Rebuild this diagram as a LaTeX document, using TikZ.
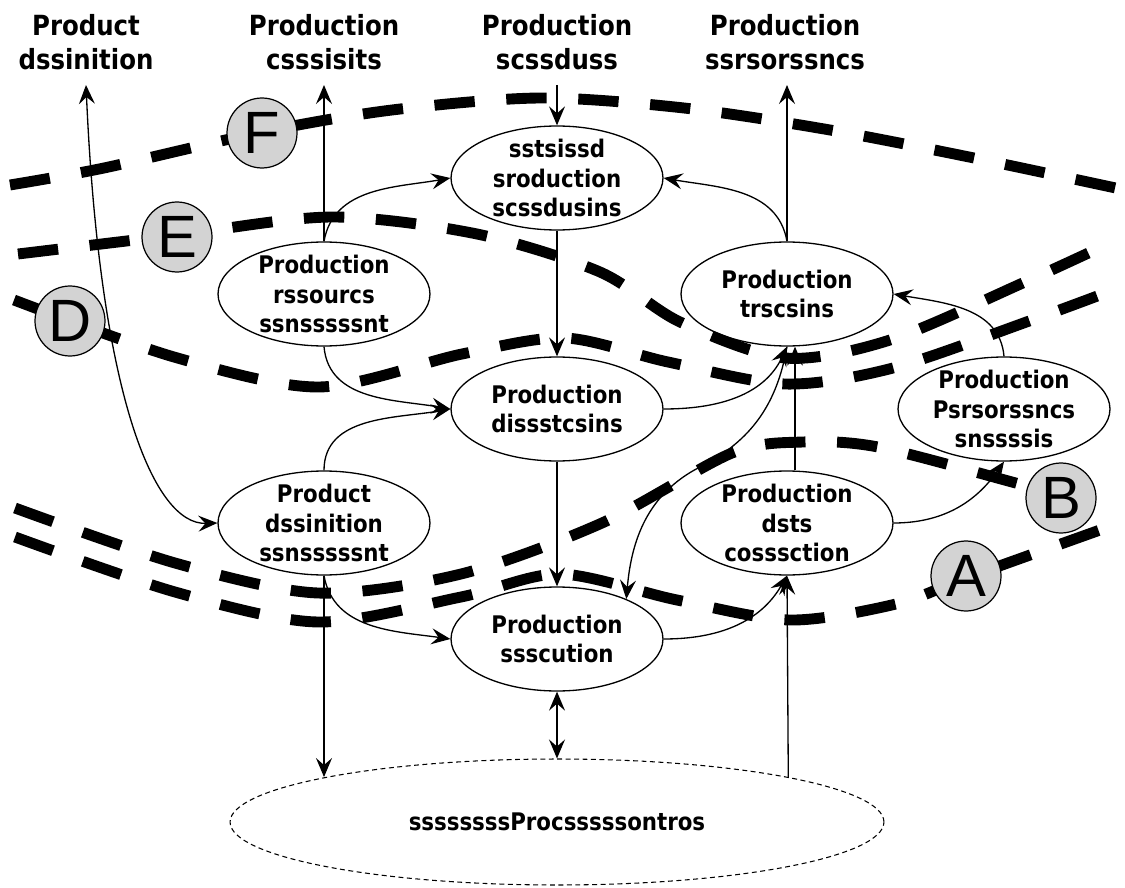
\documentclass[tikz,border=0pt]{standalone}
\usepackage{fontspec}
\setmainfont{DejaVu Sans}
\newfontfamily\nodefont{DejaVu Sans}[FakeStretch=0.88]
\newfontfamily\zonefont{Liberation Sans}
\usetikzlibrary{shapes.geometric,arrows.meta}
\definecolor{zonegray}{RGB}{211,211,211}

\begin{document}
\begin{tikzpicture}[x=0.02cm,y=0.02cm,
    >={Stealth[length=3.8mm,width=3.2mm,inset=1.4mm]},
    ell/.style={ellipse,draw,line width=0.75pt,fill=white,minimum width=4.24cm,minimum height=2.08cm,inner sep=0pt},
    etxt/.style={font=\nodefont\fontsize{13.8}{16.7}\selectfont\bfseries,align=center,inner sep=0pt},
    head/.style={font=\nodefont\fontsize{15.8}{19.5}\selectfont\bfseries,align=center,inner sep=0pt,outer sep=0.3cm},
    store/.style={ellipse,draw,line width=0.6pt,dash pattern=on 2.8pt off 2pt,minimum width=13.08cm,minimum height=2.52cm,font=\nodefont\fontsize{13.8}{15}\selectfont\bfseries},
    conn/.style={line width=0.75pt,->},
    zone/.style={line width=6.2pt,dash pattern=on 23pt off 18pt},
    zonelbl/.style={circle,draw,line width=0.7pt,fill=zonegray,minimum size=1.4cm,inner sep=0pt,font=\zonefont\fontsize{34}{34}\selectfont}]
    \useasboundingbox (0,0) rectangle (1125,-888);
    \node[head,anchor=south] (h1) at (86,-85) {Product\\dssinition};
    \node[head,anchor=south] (h2) at (324,-85) {Production\\csssisits};
    \node[head,anchor=south] (h3) at (557,-85) {Production\\scssduss};
    \node[head,anchor=south] (h4) at (785,-85) {Production\\ssrsorssncs};
    \node[ell,label={[etxt]center:sstsissd\\sroduction\\scssdusins}] (top) at (557,-178) {};
    \node[ell,label={[etxt]center:Production\\rssourcs\\ssnsssssnt}] (res) at (324,-294) {};
    \node[ell,label={[etxt]center:Production\\trscsins}] (trs) at (787,-294) {};
    \node[ell,label={[etxt]center:Production\\dissstcsins}] (dis) at (557,-409) {};
    \node[ell,label={[etxt]center:Production\\Psrsorssncs\\snssssis}] (pe) at (1004,-409) {};
    \node[ell,label={[etxt]center:Product\\dssinition\\ssnsssssnt}] (pd) at (324,-523) {};
    \node[ell,label={[etxt]center:Production\\dsts\\cosssction}] (dc) at (787,-523) {};
    \node[ell,label={[etxt]center:Production\\ssscution}] (ex) at (557,-639) {};
    \node[store] (db) at (557,-822) {ssssssssProcsssssontros};
    \draw[conn] (h3.south) -- (top.north);
    \draw[conn] (res.north) -- (h2.south);
    \draw[conn] (trs.north) -- (trs.north |- h4.south);
    \draw[conn,<->] (h1.south) .. controls (100,-400) and (155,-525) .. (pd.west);
    \draw[conn] (res.north) to[out=80,in=190] (top.west);
    \draw[conn] (trs.north) to[out=100,in=-10] (top.east);
    \draw[conn] (top) -- (dis);
    \draw[conn] (res.south) to[out=-85,in=170] (dis.west);
    \draw[conn] (pd.north) to[out=90,in=190] (dis.west);
    \draw[conn] (dis) -- (ex);
    \draw[conn] (dis.east) to[out=0,in=-115] (trs.south);
    \draw[conn] (trs.south) to[out=-100,in=27] (700,-467) to[out=207,in=85] (ex.30);
    \draw[conn] ([xshift=0.16cm]dc.north) -- ([xshift=0.16cm]trs.south);
    \draw[conn] (dc.east) to[out=0,in=-125] (pe.south);
    \draw[conn] (pe.north) to[out=95,in=-10] (trs.east);
    \draw[conn] (pd.south) to[out=-80,in=172] (ex.west);
    \draw[conn] (pd.south) -- (pd.south |- db.169);
    \draw[conn,<->] (ex) -- (db);
    \draw[conn] (db.11) -- (dc.south);
    \draw[conn] (ex.east) to[out=0,in=-120] (dc.south);
    \draw[zone] plot[smooth,tension=0.5] coordinates {(10,-185) (104,-168) (262,-132) (392,-110) (540,-98) (684,-108) (830,-130) (974,-158) (1125,-190)};
    \draw[zone] plot[smooth,tension=0.5] coordinates {(18,-254) (177,-235) (332,-217) (477,-234) (600,-272) (680,-322) (785,-358) (890,-340) (1025,-282) (1112,-242)};
    \draw[zone] plot[smooth,tension=0.5] coordinates {(14,-300) (174,-357) (319,-387) (462,-354) (565,-338) (668,-362) (785,-384) (893,-368) (1032,-320) (1108,-292)};
    \draw[zone] plot[smooth,tension=0.5] coordinates {(15,-508) (175,-563) (318,-593) (461,-574) (602,-523) (732,-453) (803,-442) (878,-447) (1012,-482) (1061,-496) (1100,-505)};
    \draw[zone] plot[smooth,tension=0.5] coordinates {(15,-537) (175,-592) (318,-622) (461,-597) (560,-574) (677,-600) (790,-620) (896,-604) (966,-578) (1100,-530)};
    \node[zonelbl] (F) at (262,-133) {F};
    \node[zonelbl] (E) at (177,-237) {E};
    \node[zonelbl] (D) at (70,-321) {D};
    \node[zonelbl] (B) at (1061,-498) {B};
    \node[zonelbl] (A) at (966,-576) {A};
\end{tikzpicture}
\end{document}
